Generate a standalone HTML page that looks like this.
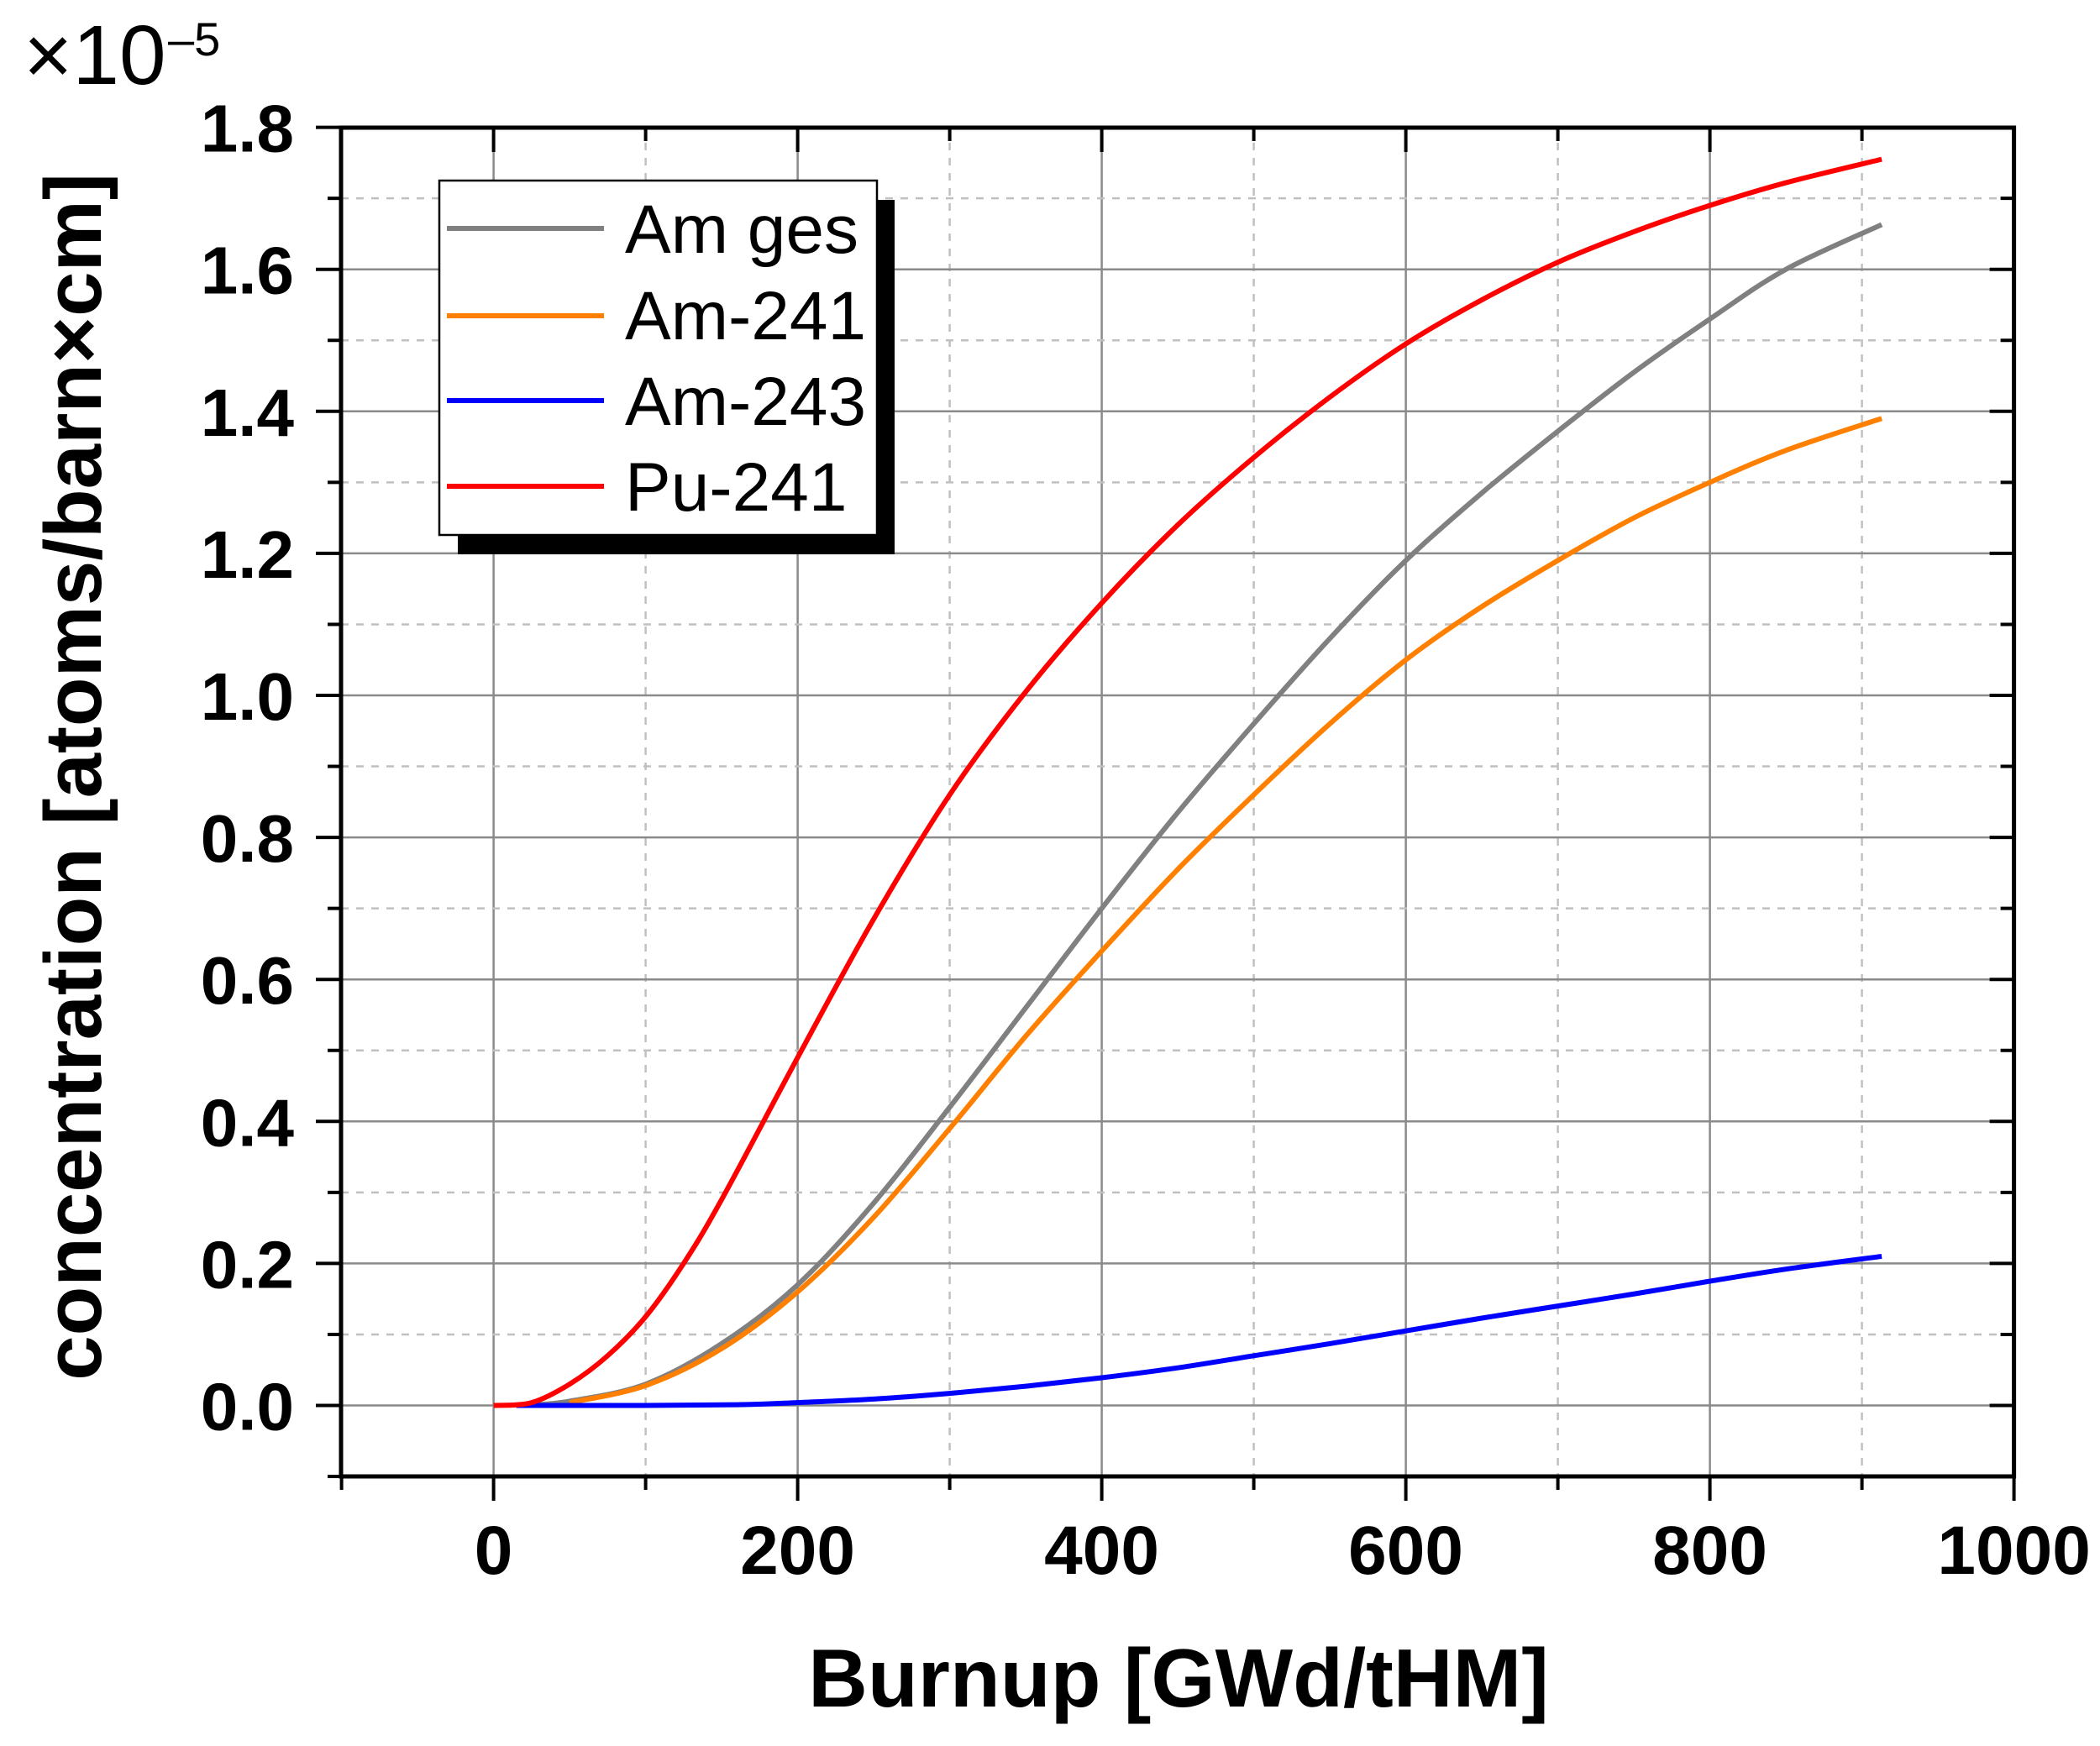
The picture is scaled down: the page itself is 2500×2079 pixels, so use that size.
<!DOCTYPE html>
<html><head><meta charset="utf-8">
<style>
html,body{margin:0;padding:0;background:#fff;}
svg{display:block;}
text{font-family:"Liberation Sans",Arial,sans-serif;}
</style></head>
<body>
<svg id="s" width="2500" height="2079" viewBox="0 0 2500 2079" xmlns="http://www.w3.org/2000/svg">
<g id="grid"></g>
<g id="curves" fill="none" stroke-width="6" stroke-linejoin="round" stroke-linecap="butt"></g>
<g id="axes"></g>
<!-- legend -->
<rect x="545" y="238" width="520" height="422" fill="#000"/>
<rect x="523" y="215" width="521" height="422" fill="#fff" stroke="#000" stroke-width="2.5"/>
<line x1="532" y1="272" x2="719" y2="272" stroke="#808080" stroke-width="6"/>
<line x1="532" y1="376" x2="719" y2="376" stroke="#ff8000" stroke-width="6"/>
<line x1="532" y1="477" x2="719" y2="477" stroke="#0000ff" stroke-width="6"/>
<line x1="532" y1="579" x2="719" y2="579" stroke="#ff0000" stroke-width="6"/>
<g font-size="82" fill="#000">
<text x="744" y="301">Am ges</text>
<text x="744" y="404">Am-241</text>
<text x="744" y="506">Am-243</text>
<text x="744" y="608">Pu-241</text>
</g>
<!-- multiplier -->
<text x="28" y="100" font-size="100" fill="#000">×10</text>
<text x="200" y="66" font-size="56" fill="#000">–5</text>
<!-- axis titles -->
<text x="1403" y="2032" font-size="98" font-weight="bold" text-anchor="middle">Burnup [GWd/tHM]</text>
<text transform="translate(120,925) rotate(-90)" font-size="96" font-weight="bold" text-anchor="middle">concentration [atoms/barn×cm]</text>
</svg>
<script>
(function(){
var NS="http://www.w3.org/2000/svg";
function X(v){return 587.6+v*1.81;}
function Y(v){return 1673.5-v*845.5;}
var L=406,R=2397.6,T=152,B=1758;
function el(p,t,a){var e=document.createElementNS(NS,t);for(var k in a)e.setAttribute(k,a[k]);p.appendChild(e);return e;}
var g=document.getElementById('grid');
for(var v=0;v<=900;v+=100){
  var x=X(v);
  if(v%200==0) el(g,'line',{x1:x,y1:T,x2:x,y2:B,stroke:'#8a8a8a','stroke-width':2.5});
  else el(g,'line',{x1:x,y1:T,x2:x,y2:B,stroke:'#c0c0c0','stroke-width':2.5,'stroke-dasharray':'9,9'});
}
for(var i=0;i<=17;i++){
  var v=i/10, y=Y(v);
  if(i%2==0) el(g,'line',{x1:L,y1:y,x2:R,y2:y,stroke:'#8a8a8a','stroke-width':2.5});
  else el(g,'line',{x1:L,y1:y,x2:R,y2:y,stroke:'#c0c0c0','stroke-width':2.5,'stroke-dasharray':'9,9'});
}
var data={
 '#808080':[[20,0],[50,0.006],[100,0.03],[150,0.087],[200,0.17],[250,0.285],[300,0.42],[350,0.56],[400,0.70],[450,0.835],[500,0.96],[550,1.08],[600,1.19],[650,1.285],[700,1.372],[750,1.455],[800,1.53],[850,1.6],[913,1.663]],
 '#ff8000':[[50,0.004],[100,0.028],[150,0.08],[200,0.16],[250,0.265],[300,0.39],[350,0.52],[400,0.64],[450,0.755],[500,0.86],[550,0.96],[600,1.05],[650,1.125],[700,1.19],[750,1.25],[800,1.30],[850,1.345],[913,1.39]],
 '#0000ff':[[15,0],[100,0],[160,0.001],[200,0.004],[250,0.009],[300,0.017],[350,0.027],[400,0.039],[450,0.053],[500,0.07],[550,0.087],[600,0.105],[650,0.123],[700,0.14],[750,0.157],[800,0.175],[850,0.192],[913,0.21]],
 '#ff0000':[[0,0],[25,0.004],[50,0.03],[75,0.07],[100,0.125],[125,0.2],[150,0.29],[200,0.49],[250,0.685],[300,0.86],[350,1.005],[400,1.13],[450,1.24],[500,1.335],[550,1.42],[600,1.495],[650,1.557],[700,1.61],[750,1.653],[800,1.69],[850,1.722],[913,1.755]]
};
var c=document.getElementById('curves');
for(var col in data){
  var p=data[col].map(function(q){return [X(q[0]),Y(q[1])];});
  var d='M'+p[0][0]+','+p[0][1];
  for(var i=0;i<p.length-1;i++){
    var p0=p[i-1]||p[i],p1=p[i],p2=p[i+1],p3=p[i+2]||p2;
    var c1x=p1[0]+(p2[0]-p0[0])/6,c1y=p1[1]+(p2[1]-p0[1])/6;
    var c2x=p2[0]-(p3[0]-p1[0])/6,c2y=p2[1]-(p3[1]-p1[1])/6;
    d+=' C'+c1x+','+c1y+' '+c2x+','+c2y+' '+p2[0]+','+p2[1];
  }
  el(c,'path',{d:d,stroke:col});
}
var a=document.getElementById('axes');
el(a,'rect',{x:L,y:T,width:R-L,height:B-T,fill:'none',stroke:'#000','stroke-width':5});
for(var v=-100;v<=1000;v+=100){
  var x=X(v), maj=(v%200==0);
  el(a,'line',{x1:x,y1:B,x2:x,y2:B+(maj?29:16),stroke:'#000','stroke-width':4});
  if(v>-100&&v<1000) el(a,'line',{x1:x,y1:T,x2:x,y2:T+(maj?29:16),stroke:'#000','stroke-width':4});
  if(maj&&v>=0){var t=el(a,'text',{x:x,y:1874,'font-size':82,'font-weight':'bold','text-anchor':'middle'});t.textContent=v;}
}
for(var i=-1;i<=18;i++){
  var y=Y(i/10), maj=(i%2==0);
  el(a,'line',{x1:L,y1:y,x2:L-(maj?30:16),y2:y,stroke:'#000','stroke-width':4});
  el(a,'line',{x1:R,y1:y,x2:R-(maj?29:16),y2:y,stroke:'#000','stroke-width':4});
  if(maj&&i>=0){var t=el(a,'text',{x:350,y:y+29,'font-size':80,'font-weight':'bold','text-anchor':'end'});t.textContent=(i/10).toFixed(1);}
}
})();
</script>
</body></html>
